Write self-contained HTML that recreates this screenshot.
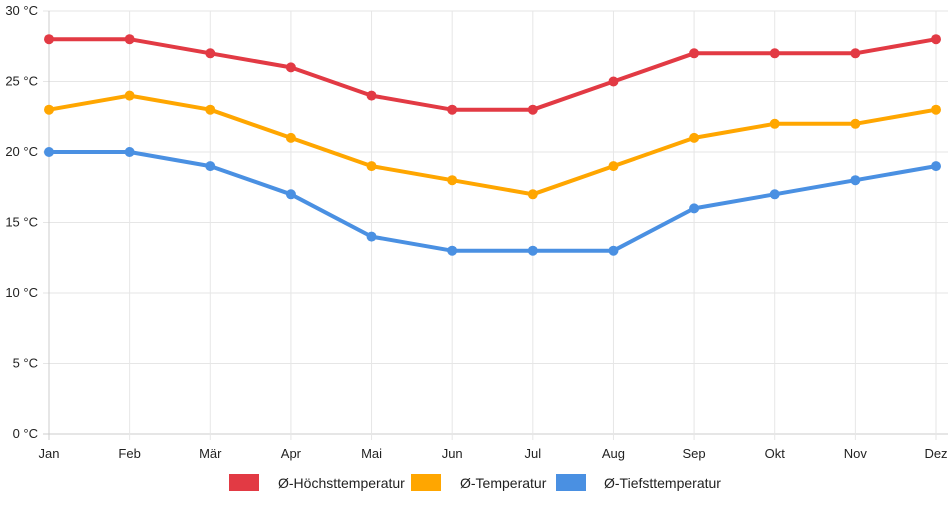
<!DOCTYPE html>
<html><head><meta charset="utf-8"><style>
body{margin:0;background:#fff;width:952px;height:500px;overflow:hidden}
svg text{font-family:"Liberation Sans",sans-serif;font-size:13px;fill:#222}
</style></head><body>
<svg id="chart" width="952" height="500" xmlns="http://www.w3.org/2000/svg">
<g id="grid"></g>
<g id="axes"></g>
<g id="series"></g>
<g id="legend">
<rect x="229" y="474" width="30" height="17" fill="#e23a44"/>
<text x="278" y="488" style="font-size:14px">Ø-Höchsttemperatur</text>
<rect x="411" y="474" width="30" height="17" fill="#ffa600"/>
<text x="460" y="488" style="font-size:14px">Ø-Temperatur</text>
<rect x="556" y="474" width="30" height="17" fill="#4a90e2"/>
<text x="604" y="488" style="font-size:14px">Ø-Tiefsttemperatur</text>
</g>
</svg>
<script>
const months=["Jan","Feb","Mär","Apr","Mai","Jun","Jul","Aug","Sep","Okt","Nov","Dez"];
const highTemps=[28,28,27,26,24,23,23,25,27,27,27,28];
const avgTemps=[23,24,23,21,19,18,17,19,21,22,22,23];
const lowTemps=[20,20,19,17,14,13,13,13,16,17,18,19];
const yTicks=[0,5,10,15,20,25,30];
const NS="http://www.w3.org/2000/svg";
const x0=49,x1=936,y0=434,y1=11,ymax=30;
const xs=i=>x0+i*(x1-x0)/(months.length-1);
const ys=v=>y0-(v/ymax)*(y0-y1);
function mk(tag,attrs,parent){const e=document.createElementNS(NS,tag);for(const k in attrs)e.setAttribute(k,attrs[k]);parent.appendChild(e);return e;}
const grid=document.getElementById('grid'),axes=document.getElementById('axes'),ser=document.getElementById('series');
yTicks.forEach(t=>{
 const l=mk('line',{x1:x0-6,x2:x1+12,y1:ys(t),y2:ys(t),stroke:t===0?'#ccc':'#e6e6e6','stroke-width':1},grid);
 
 
 const tx=mk('text',{x:38,y:ys(t)+4,'text-anchor':'end'},axes);
 
 
 tx.textContent=t+" °C";
});
months.forEach((m,i)=>{
 const l=mk('line',{x1:xs(i),x2:xs(i),y1:y1,y2:y0+6,stroke:i===0?'#ccc':'#e6e6e6','stroke-width':1},grid);
 
 
 const tx=mk('text',{x:xs(i),y:458,'text-anchor':'middle'},axes);
 
 
 tx.textContent=m;
});
function drawSeries(data,color,name){
 const g=mk('g',{},ser);
 
 
 const p=mk('polyline',{points:data.map((v,i)=>xs(i)+','+ys(v)).join(' '),fill:'none',stroke:color,'stroke-width':4,'stroke-linejoin':'round'},g);
 
 
 data.forEach((v,i)=>{
  const c=mk('circle',{cx:xs(i),cy:ys(v),r:5,fill:color},g);
  
  
 });
}
drawSeries(lowTemps,'#4a90e2','low');
drawSeries(avgTemps,'#ffa600','avg');
drawSeries(highTemps,'#e23a44','high');
</script>
</body></html>
